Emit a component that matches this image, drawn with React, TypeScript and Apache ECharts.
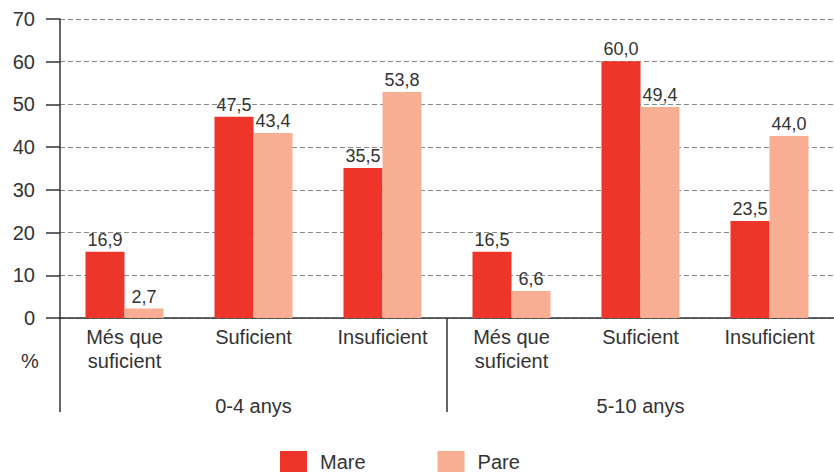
import React, { useEffect, useRef } from "react";
import * as echarts from "echarts";

const categories = ["Més que\nsuficient", "Suficient", "Insuficient", "Més que\nsuficient", "Suficient", "Insuficient"];
const groups = ["0-4 anys", "5-10 anys"];
const seriesNames = ["Mare", "Pare"];
// bar heights as drawn in the picture
const mareValues = [15.5, 47.1, 35.1, 15.5, 60.1, 22.7];
const pareValues = [2.2, 43.3, 52.9, 6.3, 49.4, 42.6];
// labels printed above the bars
const mareLabels = ["16,9", "47,5", "35,5", "16,5", "60,0", "23,5"];
const pareLabels = ["2,7", "43,4", "53,8", "6,6", "49,4", "44,0"];
const yTicks = { min: 0, max: 70, interval: 10 };
const unitLabel = "%";

const FONT = "'Liberation Sans', Arial, Helvetica, sans-serif";
const TEXT = "#333";
const RED = "#EE3529";
const SALMON = "#F8AE93";

export default function App() {
  const ref = useRef<HTMLDivElement>(null);

  useEffect(() => {
    document.body.style.margin = "0";
    if (!ref.current) return;
    const chart = echarts.init(ref.current, null, { renderer: "svg" });
    const option: any = {
      animation: false,
      textStyle: { fontFamily: FONT },
      grid: { left: 60, right: 0, top: 19, bottom: 155, containLabel: false },
      legend: {
        data: seriesNames,
        left: 275,
        top: 446,
        itemWidth: 27,
        itemHeight: 21,
        itemGap: 72,
        icon: "rect",
        textStyle: { fontFamily: FONT, fontSize: 20, lineHeight: 21, color: TEXT, padding: [0, 0, 0, 8] },
      },
      xAxis: [
        {
          type: "category",
          data: categories,
          position: "bottom",
          axisLine: { show: true, lineStyle: { color: TEXT, width: 1.5 } },
          axisTick: { show: false },
          axisLabel: {
            interval: 0,
            fontFamily: FONT,
            fontSize: 20,
            lineHeight: 24,
            color: TEXT,
            margin: 7,
          },
          splitLine: { show: false },
        },
        {
          type: "category",
          data: groups,
          position: "bottom",
          axisLine: { show: false },
          axisTick: { show: false },
          axisLabel: {
            interval: 0,
            fontFamily: FONT,
            fontSize: 20,
            lineHeight: 24,
            color: TEXT,
            margin: 76,
          },
          splitLine: { show: false },
        },
      ],
      yAxis: {
        type: "value",
        min: yTicks.min,
        max: yTicks.max,
        interval: yTicks.interval,
        axisLine: { show: true, lineStyle: { color: TEXT, width: 1.5 } },
        axisTick: { show: true, length: 14, lineStyle: { color: TEXT, width: 1.5 } },
        axisLabel: { fontFamily: FONT, fontSize: 20, color: TEXT, margin: 25 },
        splitLine: { show: true, lineStyle: { color: "#888", type: [5, 3], width: 1 } },
      },
      series: [
        {
          name: seriesNames[0],
          type: "bar",
          data: mareValues,
          barWidth: 39,
          barGap: "0%",
          itemStyle: { color: RED },
          label: {
            show: true,
            position: "top",
            distance: 3,
            fontFamily: FONT,
            fontSize: 18,
            color: TEXT,
            formatter: (p: any) => mareLabels[p.dataIndex],
          },
        },
        {
          name: seriesNames[1],
          type: "bar",
          data: pareValues,
          barWidth: 39,
          barGap: "0%",
          itemStyle: { color: SALMON },
          label: {
            show: true,
            position: "top",
            distance: 3,
            fontFamily: FONT,
            fontSize: 18,
            color: TEXT,
            formatter: (p: any) => pareLabels[p.dataIndex],
          },
        },
      ],
    };
    chart.setOption(option);

    const y0 = chart.convertToPixel({ yAxisIndex: 0 }, 0) as number;
    const xStart = chart.convertToPixel({ xAxisIndex: 0 }, 0) as number;
    const xNext = chart.convertToPixel({ xAxisIndex: 0 }, 1) as number;
    const step = xNext - xStart;
    const axisX = xStart - step / 2;
    const sepX = xStart + step * 2.5;
    const bottomY = y0 + 94;

    chart.setOption({
      graphic: [
        {
          type: "line",
          shape: { x1: axisX, y1: y0, x2: axisX, y2: bottomY },
          style: { stroke: TEXT, lineWidth: 1.5 },
        },
        {
          type: "line",
          shape: { x1: sepX, y1: y0, x2: sepX, y2: bottomY },
          style: { stroke: TEXT, lineWidth: 1.5 },
        },
        {
          type: "text",
          x: 30,
          y: 361,
          style: {
            text: unitLabel,
            fontFamily: FONT,
            fontSize: 20,
            fill: TEXT,
            align: "center",
            verticalAlign: "middle",
          },
        },
      ],
    });

    return () => chart.dispose();
  }, []);

  return <div ref={ref} style={{ width: 834, height: 473 }} />;
}
